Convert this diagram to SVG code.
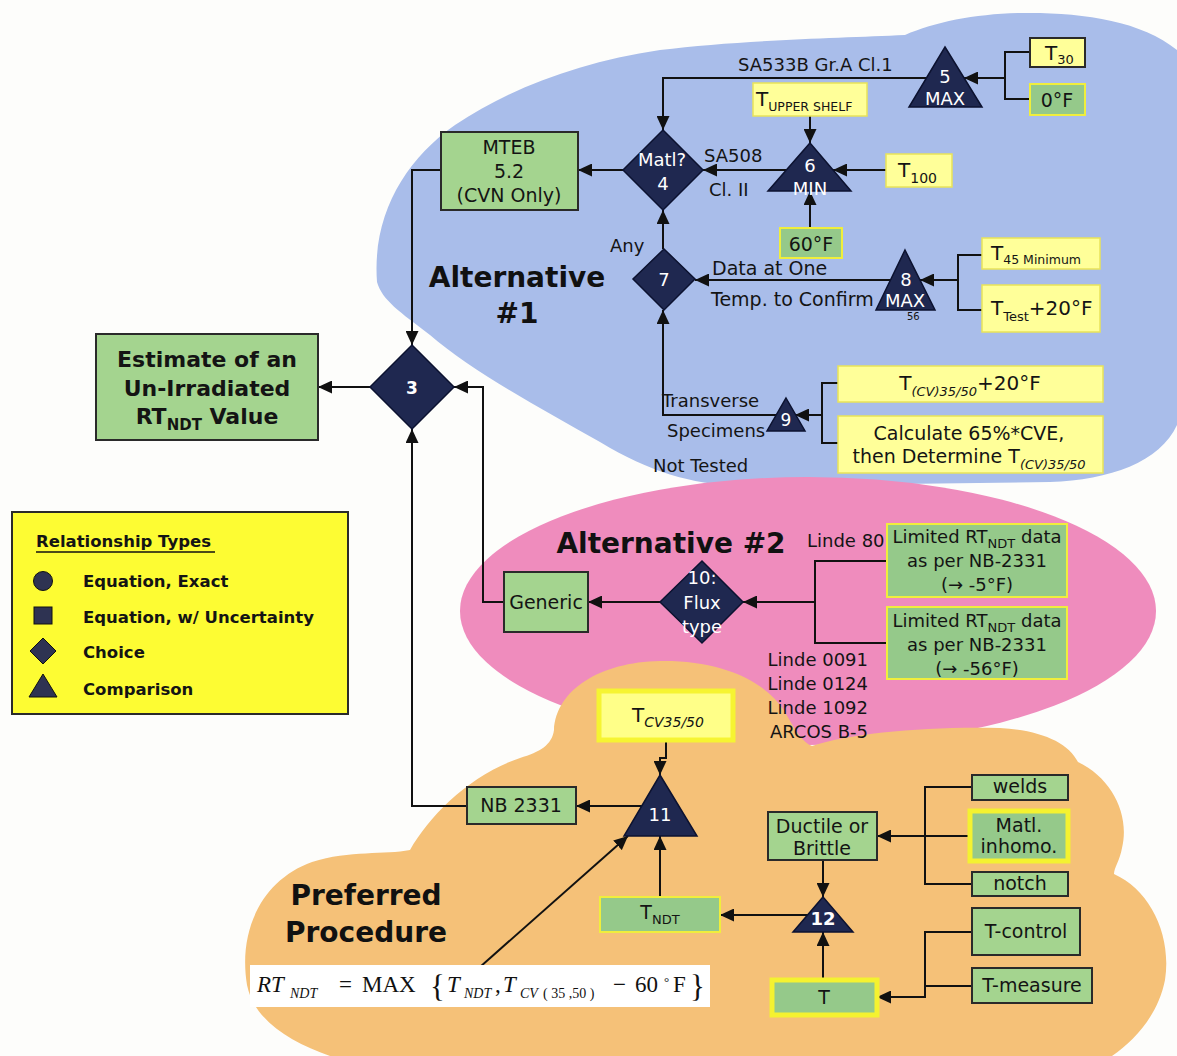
<svg xmlns="http://www.w3.org/2000/svg" width="1177" height="1056" viewBox="0 0 1177 1056">
<defs>
  <marker id="arr" markerUnits="userSpaceOnUse" markerWidth="15" markerHeight="13" refX="14" refY="6.5" orient="auto">
    <path d="M0,0 L14,6.5 L0,13 z" fill="#111"/>
  </marker>
</defs>
<style>
  .t{font-family:"DejaVu Sans",Verdana,sans-serif;fill:#141414;font-size:18px}
  .w{fill:#fff}
  .c{text-anchor:middle}
  .e{text-anchor:end}
  .hd{font-family:"DejaVu Sans",Verdana,sans-serif;font-weight:bold;font-size:28px;fill:#111;text-anchor:middle}
  .dk{fill:#1f2850;stroke:#0c1230;stroke-width:1.5}
  .g{fill:#a4d48f;stroke:#2a2a2a;stroke-width:2}
  .gy{fill:#95c98a;stroke:#f0ee3c;stroke-width:2}
  .gyk{fill:#95c98a;stroke:#f4f230;stroke-width:5}
  .y{fill:#ffff99;stroke:#e9e35a;stroke-width:1.5}
  .yk{fill:#ffff99;stroke:#2a2a2a;stroke-width:2}
  .conn path{fill:none;stroke:#111;stroke-width:2}
  .conn path.a{marker-end:url(#arr)}
  .fm{font-family:"Liberation Serif","Times New Roman",serif;fill:#111}
</style>

<rect width="1177" height="1056" fill="#fdfdfb"/>

<!-- shaded regions -->
<g id="regions">
  <path id="region-alt1" fill="#a9bdea" d="M377,282 C372,215 405,160 455,125 C510,88 580,62 660,50 C740,40 840,38 905,35 C935,22 975,14 1020,13 C1080,12 1140,20 1177,50 L1177,425 C1160,462 1110,480 1050,482 L740,486 C690,484 650,472 600,442 C540,408 470,370 430,335 C400,312 382,300 377,282 Z"/>
  <ellipse id="region-alt2" cx="808" cy="611" rx="348" ry="134" fill="#ef8cbd"/>
  <path id="region-pref" fill="#f5c178" d="M247,985 C238,930 262,880 312,862 C350,850 385,855 410,850 C430,815 470,775 520,758 C540,752 552,745 554,730 C556,690 600,662 660,661 C720,660 765,680 785,712 C795,730 802,742 812,746 C850,733 930,726 1000,728 C1040,730 1068,742 1078,762 C1112,778 1130,815 1122,848 C1120,860 1114,868 1114,874 C1150,890 1172,935 1165,980 C1158,1015 1135,1040 1112,1056 L330,1056 C290,1042 254,1020 247,985 Z"/>
</g>

<!-- region headings -->
<g id="headings">
  <text class="hd" x="517" y="287">Alternative</text>
  <text class="hd" x="517" y="323">#1</text>
  <text class="hd" x="671" y="553">Alternative #2</text>
  <text class="hd" x="366" y="905">Preferred</text>
  <text class="hd" x="366" y="942">Procedure</text>
</g>

<!-- connectors -->
<g id="connectors" class="conn">
  <path class="a" d="M370,387 H318"/>
  <path class="a" d="M441,170 H412 V345"/>
  <path class="a" d="M504,602 H483 V387 H454"/>
  <path class="a" d="M467,806 H412 V429"/>
  <path class="a" d="M623,170 H578"/>
  <path class="a" d="M927,78 H663 V130"/>
  <path d="M1030,52 H1005 V99 H1030"/>
  <path class="a" d="M1005,78 H964"/>
  <path class="a" d="M810,116 V143"/>
  <path class="a" d="M810,228 V191"/>
  <path class="a" d="M886,170 H833"/>
  <path class="a" d="M786,170 H703"/>
  <path class="a" d="M663,249 V210"/>
  <path class="a" d="M891,280 H695"/>
  <path d="M982,255 H958 V310 H982"/>
  <path class="a" d="M958,280 H920"/>
  <path class="a" d="M776,415 H663 V310"/>
  <path d="M838,383 H822 V443 H838"/>
  <path class="a" d="M822,415 H795"/>
  <path class="a" d="M660,602 H588"/>
  <path d="M887,561 H815 V643 H887"/>
  <path class="a" d="M815,602 H743"/>
  <path class="a" d="M666,740 V758 H660 V775"/>
  <path class="a" d="M642,806 H576"/>
  <path class="a" d="M660,897 V836"/>
  <path class="a" d="M480,967 L628,836"/>
  <path class="a" d="M808,915 H720"/>
  <path class="a" d="M823,860 V897"/>
  <path class="a" d="M823,980 V932"/>
  <path d="M972,787 H925 V884 H972"/>
  <path class="a" d="M970,836 H877"/>
  <path class="a" d="M972,932 H925 V997 H877"/>
  <path d="M972,986 H925"/>

  <!-- connector labels -->
  <text class="t" x="738" y="71">SA533B Gr.A Cl.1</text>
  <text class="t" x="704" y="162">SA508</text>
  <text class="t" x="709" y="196">Cl. II</text>
  <text class="t" x="610" y="252">Any</text>
  <text class="t" x="712" y="275" style="font-size:19px">Data at One</text>
  <text class="t" x="711" y="306" style="font-size:19px">Temp. to Confirm</text>
  <text class="t" x="907" y="320" style="font-size:10px">56</text>
  <text class="t" x="662" y="407">Transverse</text>
  <text class="t" x="667" y="437">Specimens</text>
  <text class="t" x="653" y="472">Not Tested</text>
  <text class="t" x="807" y="547">Linde 80</text>
  <text class="t e" x="868" y="666">Linde 0091</text>
  <text class="t e" x="868" y="690">Linde 0124</text>
  <text class="t e" x="868" y="714">Linde 1092</text>
  <text class="t e" x="868" y="738">ARCOS B-5</text>
</g>

<!-- nodes -->
<g id="nodes">
  <g id="estimate">
    <rect class="g" x="96" y="334" width="222" height="106"/>
    <text class="t c" x="207" y="367" style="font-size:22px;font-weight:bold">Estimate of an</text>
    <text class="t c" x="207" y="396" style="font-size:22px;font-weight:bold">Un-Irradiated</text>
    <text class="t c" x="207" y="424" style="font-size:22px;font-weight:bold">RT<tspan dy="6" font-size="15">NDT</tspan><tspan dy="-6"> Value</tspan></text>
  </g>
  <g id="n3">
    <polygon class="dk" points="412,345 454,387 412,429 370,387"/>
    <text class="t c w" x="412" y="394" style="font-size:17px;font-weight:bold">3</text>
  </g>
  <g id="mteb">
    <rect class="g" x="441" y="132" width="137" height="78"/>
    <text class="t c" x="509" y="154" style="font-size:19px">MTEB</text>
    <text class="t c" x="509" y="178" style="font-size:19px">5.2</text>
    <text class="t c" x="509" y="202" style="font-size:19px">(CVN Only)</text>
  </g>
  <g id="n4">
    <polygon class="dk" points="663,130 703,170 663,210 623,170"/>
    <text class="t c w" x="662" y="166">Matl?</text>
    <text class="t c w" x="663" y="190">4</text>
  </g>
  <g id="n5">
    <polygon class="dk" points="945,47 982,107 909,107"/>
    <text class="t c w" x="945" y="83">5</text>
    <text class="t c w" x="945" y="105">MAX</text>
  </g>
  <g id="t30">
    <rect class="yk" x="1030" y="38" width="55" height="29"/>
    <text class="t" x="1045" y="60" style="font-size:20px">T<tspan dy="4" font-size="13">30</tspan></text>
  </g>
  <g id="zero-f">
    <rect class="gy" x="1030" y="84" width="55" height="31"/>
    <text class="t c" x="1057" y="107" style="font-size:19px">0°F</text>
  </g>
  <g id="t-upper-shelf">
    <rect class="y" x="753" y="83" width="114" height="33"/>
    <text class="t" x="756" y="106" style="font-size:20px">T<tspan dy="5" font-size="12.5">UPPER SHELF</tspan></text>
  </g>
  <g id="n6">
    <polygon class="dk" points="810,143 851,191 768,191"/>
    <text class="t c w" x="810" y="172">6</text>
    <text class="t c w" x="810" y="195">MIN</text>
  </g>
  <g id="t100">
    <rect class="y" x="886" y="154" width="66" height="33"/>
    <text class="t" x="898" y="177" style="font-size:20px">T<tspan dy="6" font-size="14">100</tspan></text>
  </g>
  <g id="sixty-f">
    <rect class="gy" x="780" y="228" width="62" height="30"/>
    <text class="t c" x="811" y="251" style="font-size:19px">60°F</text>
  </g>
  <g id="n7">
    <polygon class="dk" points="664,249 695,279 664,310 633,279"/>
    <text class="t c w" x="664" y="286">7</text>
  </g>
  <g id="n8">
    <polygon class="dk" points="905,250 935,310 876,310"/>
    <text class="t c w" x="906" y="286">8</text>
    <text class="t c w" x="905" y="307">MAX</text>
  </g>
  <g id="t45">
    <rect class="y" x="982" y="238" width="118" height="31"/>
    <text class="t" x="991" y="260" style="font-size:20px">T<tspan dy="4" font-size="12.5">45 Minimum</tspan></text>
  </g>
  <g id="t-test">
    <rect class="y" x="982" y="285" width="118" height="47"/>
    <text class="t" x="991" y="315" style="font-size:20px">T<tspan dy="6" font-size="13">Test</tspan><tspan dy="-6">+20°F</tspan></text>
  </g>
  <g id="n9">
    <polygon class="dk" points="786,398 805,431 767,431"/>
    <text class="t c w" x="786" y="426" style="font-size:17px">9</text>
  </g>
  <g id="t-cv-20">
    <rect class="y" x="838" y="366" width="265" height="36"/>
    <text class="t c" x="970" y="390" style="font-size:20px">T<tspan dy="6" font-size="13" font-style="italic">(CV)35/50</tspan><tspan dy="-6">+20°F</tspan></text>
  </g>
  <g id="calc-cve">
    <rect class="y" x="838" y="416" width="265" height="57"/>
    <text class="t c" x="969" y="440" style="font-size:19px">Calculate 65%*CVE,</text>
    <text class="t c" x="969" y="463" style="font-size:19px">then Determine T<tspan dy="6" font-size="13" font-style="italic">(CV)35/50</tspan></text>
  </g>

  <g id="generic">
    <rect class="g" x="504" y="572" width="84" height="60"/>
    <text class="t c" x="546" y="609" style="font-size:19px">Generic</text>
  </g>
  <g id="n10">
    <polygon class="dk" points="702,561 743,602 702,643 660,602"/>
    <text class="t c w" x="702" y="584">10:</text>
    <text class="t c w" x="702" y="609">Flux</text>
    <text class="t c w" x="702" y="633">type</text>
  </g>
  <g id="linde80-data">
    <rect class="gy" x="887" y="524" width="180" height="73"/>
    <text class="t c" x="977" y="543">Limited RT<tspan dy="5" font-size="13">NDT</tspan><tspan dy="-5"> data</tspan></text>
    <text class="t c" x="977" y="567">as per NB-2331</text>
    <text class="t c" x="977" y="591">(→ -5°F)</text>
  </g>
  <g id="linde-other-data">
    <rect class="gy" x="887" y="607" width="180" height="72"/>
    <text class="t c" x="977" y="627">Limited RT<tspan dy="5" font-size="13">NDT</tspan><tspan dy="-5"> data</tspan></text>
    <text class="t c" x="977" y="651">as per NB-2331</text>
    <text class="t c" x="977" y="675">(→ -56°F)</text>
  </g>

  <g id="t-cv3550">
    <rect x="599" y="691" width="134" height="49" fill="#ffff88" stroke="#f6f432" stroke-width="5"/>
    <text class="t" x="632" y="722" style="font-size:20px">T<tspan dy="5" font-size="14" font-style="italic">CV35/50</tspan></text>
  </g>
  <g id="n11">
    <polygon class="dk" points="660,775 697,836 624,836"/>
    <text class="t c w" x="660" y="821">11</text>
  </g>
  <g id="nb2331">
    <rect class="g" x="467" y="787" width="109" height="37"/>
    <text class="t c" x="521" y="812" style="font-size:19px">NB 2331</text>
  </g>
  <g id="t-ndt">
    <rect class="gy" x="600" y="897" width="120" height="35"/>
    <text class="t c" x="660" y="919" style="font-size:19px">T<tspan dy="5" font-size="13">NDT</tspan></text>
  </g>
  <g id="n12">
    <polygon class="dk" points="823,897 853,932 793,932"/>
    <text class="t c w" x="823" y="925" style="font-weight:bold">12</text>
  </g>
  <g id="ductile">
    <rect class="g" x="768" y="812" width="109" height="48"/>
    <text class="t c" x="822" y="833" style="font-size:19px">Ductile or</text>
    <text class="t c" x="822" y="855" style="font-size:19px">Brittle</text>
  </g>
  <g id="welds">
    <rect class="g" x="972" y="775" width="96" height="25"/>
    <text class="t c" x="1020" y="793" style="font-size:19px">welds</text>
  </g>
  <g id="matl-inhomo">
    <rect class="gyk" x="970" y="811" width="98" height="50"/>
    <text class="t c" x="1019" y="832" style="font-size:19px">Matl.</text>
    <text class="t c" x="1019" y="853" style="font-size:19px">inhomo.</text>
  </g>
  <g id="notch">
    <rect class="g" x="972" y="872" width="96" height="24"/>
    <text class="t c" x="1020" y="890" style="font-size:19px">notch</text>
  </g>
  <g id="t-control">
    <rect class="g" x="972" y="908" width="108" height="47"/>
    <text class="t c" x="1026" y="938" style="font-size:19px">T-control</text>
  </g>
  <g id="t-measure">
    <rect class="g" x="972" y="968" width="120" height="35"/>
    <text class="t c" x="1032" y="992" style="font-size:19px">T-measure</text>
  </g>
  <g id="t">
    <rect class="gyk" x="772" y="980" width="105" height="35"/>
    <text class="t c" x="824" y="1004" style="font-size:19px">T</text>
  </g>

  <g id="formula">
    <rect x="250" y="965" width="460" height="42" fill="#ffffff"/>
    <text class="fm" y="992" style="font-size:23px">
      <tspan x="257" font-style="italic">RT</tspan>
      <tspan x="290" y="998" font-size="14" font-style="italic">NDT</tspan>
      <tspan x="339" y="992">=</tspan>
      <tspan x="362">MAX</tspan>
      <tspan x="430" y="997" font-size="31">{</tspan>
      <tspan x="447" y="992" font-style="italic">T</tspan>
      <tspan x="464" y="998" font-size="14" font-style="italic">NDT</tspan>
      <tspan x="495" y="992">,</tspan>
      <tspan x="503" font-style="italic">T</tspan>
      <tspan x="520" y="998" font-size="14" font-style="italic">CV</tspan>
      <tspan x="543" y="998" font-size="14">( 35 ,50 )</tspan>
      <tspan x="613" y="992">−</tspan>
      <tspan x="635">60</tspan>
      <tspan x="664" y="986" font-size="13">°</tspan>
      <tspan x="673" y="992">F</tspan>
      <tspan x="690" y="997" font-size="31">}</tspan>
    </text>
  </g>
</g>

<!-- key to the node shapes -->
<g id="legend">
  <rect x="12" y="512" width="336" height="202" fill="#fdfc33" stroke="#2a2a2a" stroke-width="2"/>
  <text class="t" x="36" y="547" style="font-size:16.5px;font-weight:bold">Relationship Types</text>
  <line x1="36" y1="552" x2="215" y2="552" stroke="#111" stroke-width="1.5"/>
  <circle cx="43" cy="581" r="9.5" fill="#2e3352" stroke="#111"/>
  <text class="t" x="83" y="587" style="font-size:16.5px;font-weight:bold">Equation, Exact</text>
  <rect x="34" y="607" width="18" height="17" fill="#2e3352" stroke="#111"/>
  <text class="t" x="83" y="623" style="font-size:16.5px;font-weight:bold">Equation, w/ Uncertainty</text>
  <polygon points="43,638 56,651 43,664 30,651" fill="#2e3352" stroke="#111"/>
  <text class="t" x="83" y="658" style="font-size:16.5px;font-weight:bold">Choice</text>
  <polygon points="43,674 57,697 29,697" fill="#2e3352" stroke="#111"/>
  <text class="t" x="83" y="695" style="font-size:16.5px;font-weight:bold">Comparison</text>
</g>
</svg>
